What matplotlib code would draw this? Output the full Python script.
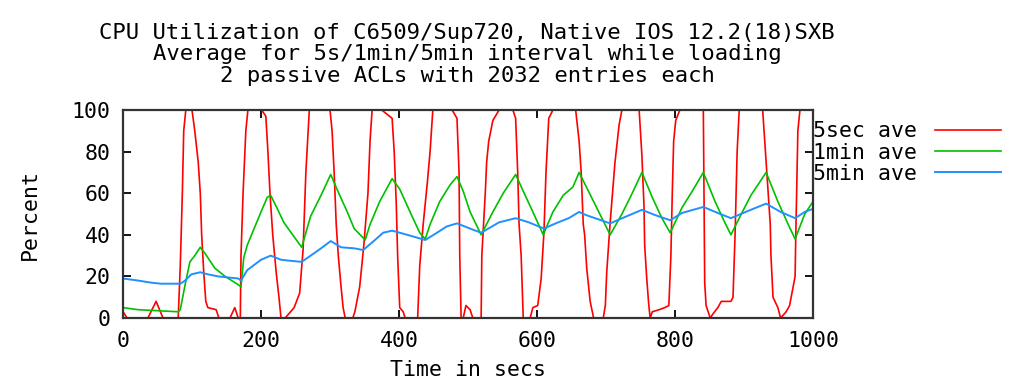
import numpy as np
import matplotlib
matplotlib.use('Agg')
import matplotlib.pyplot as plt

# values (time in secs, percent)
t_5sec = [0, 6, 36, 48, 58, 80, 83, 86, 88, 91, 100, 104, 109, 112, 114, 117, 120, 123,
          135, 139, 155, 162, 167, 170, 171, 174, 178, 181, 201, 207, 210, 213, 217, 222,
          226, 229, 235, 248, 256, 261, 265, 270, 300, 303, 306, 309, 312, 316, 319, 322,
          333, 336, 343, 349, 355, 358, 361, 375, 390, 393, 396, 398, 401, 406, 409, 427,
          430, 435, 441, 445, 449, 477, 484, 487, 488, 490, 493, 497, 503, 507, 519, 520,
          525, 527, 530, 536, 545, 565, 569, 572, 574, 577, 580, 590, 594, 601, 606, 610,
          613, 617, 623, 656, 661, 664, 667, 669, 672, 677, 682, 696, 699, 701, 706, 713,
          719, 723, 748, 752, 755, 756, 759, 762, 764, 767, 777, 785, 791, 794, 796, 798,
          801, 807, 839, 841, 842, 843, 845, 851, 855, 862, 867, 881, 884, 887, 890, 893,
          927, 932, 938, 939, 942, 949, 953, 961, 966, 974, 975, 978, 981, 1000]
v_5sec = [3, 0, 0, 8, 0, 0, 25, 60, 90, 100, 100, 90, 75, 60, 40, 22, 8, 5,
          4, 0, 0, 5, 0, 0, 30, 60, 90, 100, 100, 97, 80, 60, 40, 22,
          10, 0, 0, 5, 12, 33, 70, 100, 100, 90, 70, 45, 30, 15, 5, 0,
          0, 3, 15, 35, 60, 85, 100, 100, 96, 80, 55, 30, 5, 3, 0, 0,
          25, 45, 65, 80, 100, 100, 96, 70, 30, 0, 0, 6, 4, 0, 0, 30,
          60, 75, 85, 95, 100, 100, 96, 70, 45, 30, 0, 0, 5, 6, 19, 41,
          70, 96, 100, 100, 85, 70, 45, 40, 24, 8, 0, 0, 6, 22, 46, 75,
          93, 100, 100, 78, 54, 35, 19, 6, 0, 3, 4, 5, 6, 30, 60, 85,
          95, 100, 100, 100, 60, 17, 6, 0, 2, 5, 8, 8, 10, 40, 80, 100,
          100, 75, 45, 30, 10, 5, 0, 3, 6, 20, 40, 90, 100, 100]

t_1min = [0, 22, 80, 83, 90, 97, 104, 112, 119, 133, 148, 167, 171, 175, 180, 190, 200,
          209, 214, 223, 233, 248, 259, 265, 272, 287, 301, 310, 325, 335, 351, 358, 372,
          390, 401, 416, 430, 438, 445, 459, 474, 484, 493, 503, 519, 536, 551, 569, 580,
          594, 609, 623, 638, 652, 661, 706, 723, 738, 752, 767, 781, 793, 810, 825, 841,
          858, 872, 881, 896, 910, 932, 949, 964, 974, 988, 1000]
v_1min = [5, 4, 3, 4, 16, 27, 30, 34, 31, 24, 20, 16, 15, 29, 35, 43, 51,
          58, 59, 53, 46, 39, 34, 41, 49, 59, 69, 62, 51, 43, 37.5, 45, 56,
          67, 62, 51, 41, 38, 45, 56, 64, 68, 61, 51, 40, 51, 60, 69, 61,
          51, 40, 51, 59, 63, 70, 40, 50, 60, 70, 58, 48, 41, 53, 61, 70,
          56, 46, 40, 50, 59, 70, 56, 45, 38, 50, 56]

t_5min = [0, 22, 41, 55, 83, 90, 99, 112, 123, 138, 167, 171, 180, 190, 200, 214, 229,
          243, 259, 272, 287, 301, 316, 335, 348, 362, 377, 390, 412, 438, 455, 469, 484,
          503, 519, 545, 569, 588, 610, 627, 646, 661, 671, 706, 727, 752, 771, 793, 810,
          841, 862, 881, 906, 932, 953, 974, 988, 1000]
v_5min = [19, 18, 17, 16.5, 16.5, 18, 21, 22, 21, 20, 19, 18, 23, 25.5, 28, 30, 28,
          27.5, 27, 30, 33.5, 37, 34, 33.5, 32.7, 36.6, 41, 42, 40, 37.5, 41, 44, 45.5,
          43, 41, 46, 48, 46, 43, 45.5, 48, 51, 49.5, 45.5, 48.5, 52, 49.5, 47, 50.5,
          53.4, 50.5, 48, 51.5, 55, 51, 48, 51, 52.5]

title_lines = ['CPU Utilization of C6509/Sup720, Native IOS 12.2(18)SXB',
               'Average for 5s/1min/5min interval while loading',
               '2 passive ACLs with 2032 entries each']

mono = 'DejaVu Sans Mono'
fs = 15.5

fig = plt.figure(figsize=(10.31, 3.82), dpi=100)
ax = fig.add_axes([0.1193, 0.1675, 0.6693, 0.5445])

ax.plot(t_5sec, v_5sec, color='#ff0000', lw=1.2, label='5sec ave')
ax.plot(t_1min, v_1min, color='#00c000', lw=1.2, label='1min ave')
ax.plot(t_5min, v_5min, color='#2090ff', lw=1.4, label='5min ave')

ax.set_xlim(0, 1000)
ax.set_ylim(0, 100)
ax.set_xticks(np.arange(0, 1001, 200))
ax.set_yticks(np.arange(0, 101, 20))
ax.tick_params(direction='in', length=6, width=1.3, top=True, right=True,
               labelsize=fs, pad=9)
for lab in ax.get_xticklabels() + ax.get_yticklabels():
    lab.set_family(mono)
for sp in ax.spines.values():
    sp.set_linewidth(1.6)
    sp.set_color('#333333')

ax.set_xlabel('Time in secs', fontsize=fs, family=mono, labelpad=7)
ax.set_ylabel('Percent', fontsize=fs, family=mono, labelpad=23)

ys = [0.9136, 0.8586, 0.801]
for txt, y in zip(title_lines, ys):
    fig.text(0.453, y, txt, ha='center', va='center', fontsize=fs + 0.5, family=mono)

leg = ax.legend(loc='upper left', bbox_to_anchor=(0.789, 0.682),
                bbox_transform=fig.transFigure, frameon=False, markerfirst=False,
                prop={'family': mono, 'size': fs}, handlelength=3.1,
                handletextpad=0.8, labelspacing=0.05, borderpad=0, borderaxespad=0)

fig.savefig('out.png', dpi=100)
